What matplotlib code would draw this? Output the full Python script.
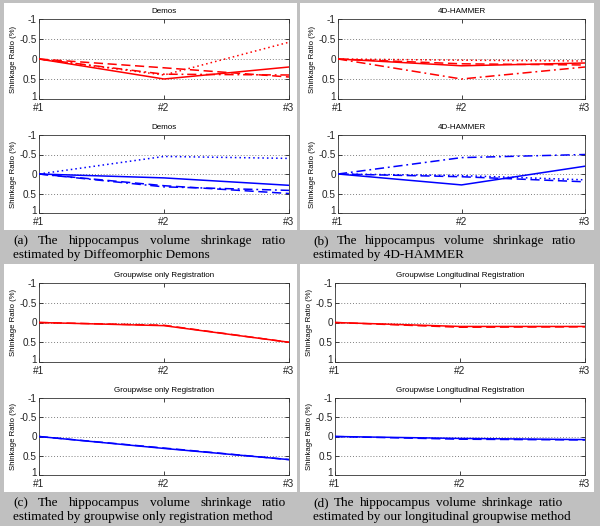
import matplotlib
matplotlib.use("Agg")
import matplotlib.pyplot as plt
import matplotlib.transforms as mtransforms
from matplotlib.patches import Rectangle

# ---------------- data ----------------
time_points = [1, 2, 3]
time_labels = ["#1", "#2", "#3"]
y_ticks = [-1, -0.5, 0, 0.5, 1]
y_tick_labels = ["-1", "-0.5", "0", "0.5", "1"]

# series order: solid, dashed, dash-dot, dotted
demons_left = [[0, 0.50, 0.20], [0, 0.22, 0.45], [0, 0.38, 0.40], [0, 0.40, -0.42]]
demons_right = [[0, 0.10, 0.29], [0, 0.30, 0.50], [0, 0.33, 0.42], [0, -0.45, -0.40]]
hammer_left = [[0, 0.17, 0.10], [0, 0.12, 0.15], [0, 0.50, 0.20], [0, 0.03, 0.05]]
hammer_right = [[0, 0.28, -0.20], [0, 0.07, 0.20], [0, -0.42, -0.50], [0, 0.04, 0.15]]
groupwise_left = [[0, 0.08, 0.50], [0, 0.07, 0.50]]
groupwise_right = [[0, 0.31, 0.60], [0, 0.30, 0.60]]
longit_left = [[0, 0.10, 0.10], [0, 0.12, 0.11]]
longit_right = [[0, 0.05, 0.08], [0, 0.07, 0.09]]

titles = ["Demos", "4D-HAMMER", "Groupwise only Registration",
          "Groupwise Longitudinal Registration"]
ylabel_text = "Shinkage Ratio (%)"
caption_first = ["(a) The hippocampus volume shrinkage ratio",
                 "(b) The hippocampus volume shrinkage ratio",
                 "(c) The hippocampus volume shrinkage ratio",
                 "(d) The hippocampus volume shrinkage ratio"]
caption_second = ["estimated by Diffeomorphic Demons",
                  "estimated by 4D-HAMMER",
                  "estimated by groupwise only registration method",
                  "estimated by our longitudinal groupwise method"]

# ---------------- layout ----------------
W, H = 600, 526
fig = plt.figure(figsize=(W / 100, H / 100), dpi=100, facecolor="#c0c0c0")

def fx(x):
    return x / W

def fy(y):
    return 1 - y / H

# white panels (x0, y0, x1, y1) in pixels
panels = [(4, 3, 297, 230), (300, 3, 594, 230), (4, 264, 297, 492), (300, 264, 594, 492)]
for (x0, y0, x1, y1) in panels:
    fig.add_artist(Rectangle((fx(x0), fy(y1)), (x1 - x0) / W, (y1 - y0) / H,
                             transform=fig.transFigure, facecolor="white",
                             edgecolor="none", zorder=0))

line_styles = [dict(linestyle="-"),
               dict(linestyle=(0, (6, 3))),
               dict(linestyle=(0, (6, 2.5, 1.2, 2.5))),
               dict(linestyle=(0, (1, 2)))]

def make_axes(x0, y0, x1, y1, title, series, color):
    ax = fig.add_axes([fx(x0), fy(y1), (x1 - x0) / W, (y1 - y0) / H])
    ax.set_facecolor("white")
    for g in [-0.5, 0, 0.5]:
        ax.axhline(g, color="#808080", linestyle=(0, (1, 2)), linewidth=0.7, zorder=1)
    for i, s in enumerate(series):
        ax.plot(time_points, s, color=color, linewidth=1.1, zorder=3, **line_styles[i])
    ax.set_xlim(1, 3)
    ax.set_ylim(1, -1)
    ax.set_xticks(time_points)
    ax.set_xticklabels(time_labels)
    ax.set_yticks(y_ticks)
    ax.set_yticklabels(y_tick_labels)
    ax.tick_params(direction="in", top=True, right=True, length=3, width=0.6,
                   labelsize=7.2, colors="#222222")
    ax.tick_params(axis="x", pad=3)
    ax.tick_params(axis="y", pad=1.5)
    for sp in ax.spines.values():
        sp.set_linewidth(0.6)
        sp.set_color("#333333")
    ax.set_title(title, fontsize=5.8, pad=4, family="Liberation Sans")
    ax.set_ylabel(ylabel_text, fontsize=5.6, labelpad=2, family="Liberation Sans")
    for lab in ax.get_xticklabels() + ax.get_yticklabels():
        lab.set_family("Liberation Sans")
    # nudge the bottom y label a little up so it only just touches "#1"
    last = ax.get_yticklabels()[-1]
    last.set_transform(last.get_transform() +
                       mtransforms.ScaledTranslation(0, 2.5 / 72, fig.dpi_scale_trans))
    return ax

red, blue = "#ff0000", "#0000ff"
make_axes(39, 19, 289, 99, titles[0], demons_left, red)
make_axes(39, 135, 289, 213, titles[0], demons_right, blue)
make_axes(338, 19, 585, 99, titles[1], hammer_left, red)
make_axes(338, 135, 585, 213, titles[1], hammer_right, blue)
make_axes(39, 283, 289, 362, titles[2], groupwise_left, red)
make_axes(39, 398, 289, 475, titles[2], groupwise_right, blue)
make_axes(335, 283, 585, 362, titles[3], longit_left, red)
make_axes(335, 398, 585, 475, titles[3], longit_right, blue)

# ---------------- captions ----------------
cap_fs = 9.5
cap_font = "Liberation Serif"
renderer = fig.canvas.get_renderer()

def justified(text, x0, x1, y):
    words = text.split()
    objs = [fig.text(0, fy(y), w, fontsize=cap_fs, family=cap_font, va="center")
            for w in words]
    widths = [t.get_window_extent(renderer).width for t in objs]
    gap = (x1 - x0 - sum(widths)) / (len(words) - 1)
    x = x0
    for t, w in zip(objs, widths):
        t.set_x(fx(x))
        x += w + gap

cap_pos = [(13, 286, 241), (313, 576, 241), (13, 286, 503), (313, 563, 503)]
for i, (x0, x1, y) in enumerate(cap_pos):
    justified(caption_first[i], x0, x1, y)
    fig.text(fx(x0), fy(y + 14), caption_second[i], fontsize=cap_fs,
             family=cap_font, va="center")

fig.savefig("out.png", dpi=100, facecolor=fig.get_facecolor())
